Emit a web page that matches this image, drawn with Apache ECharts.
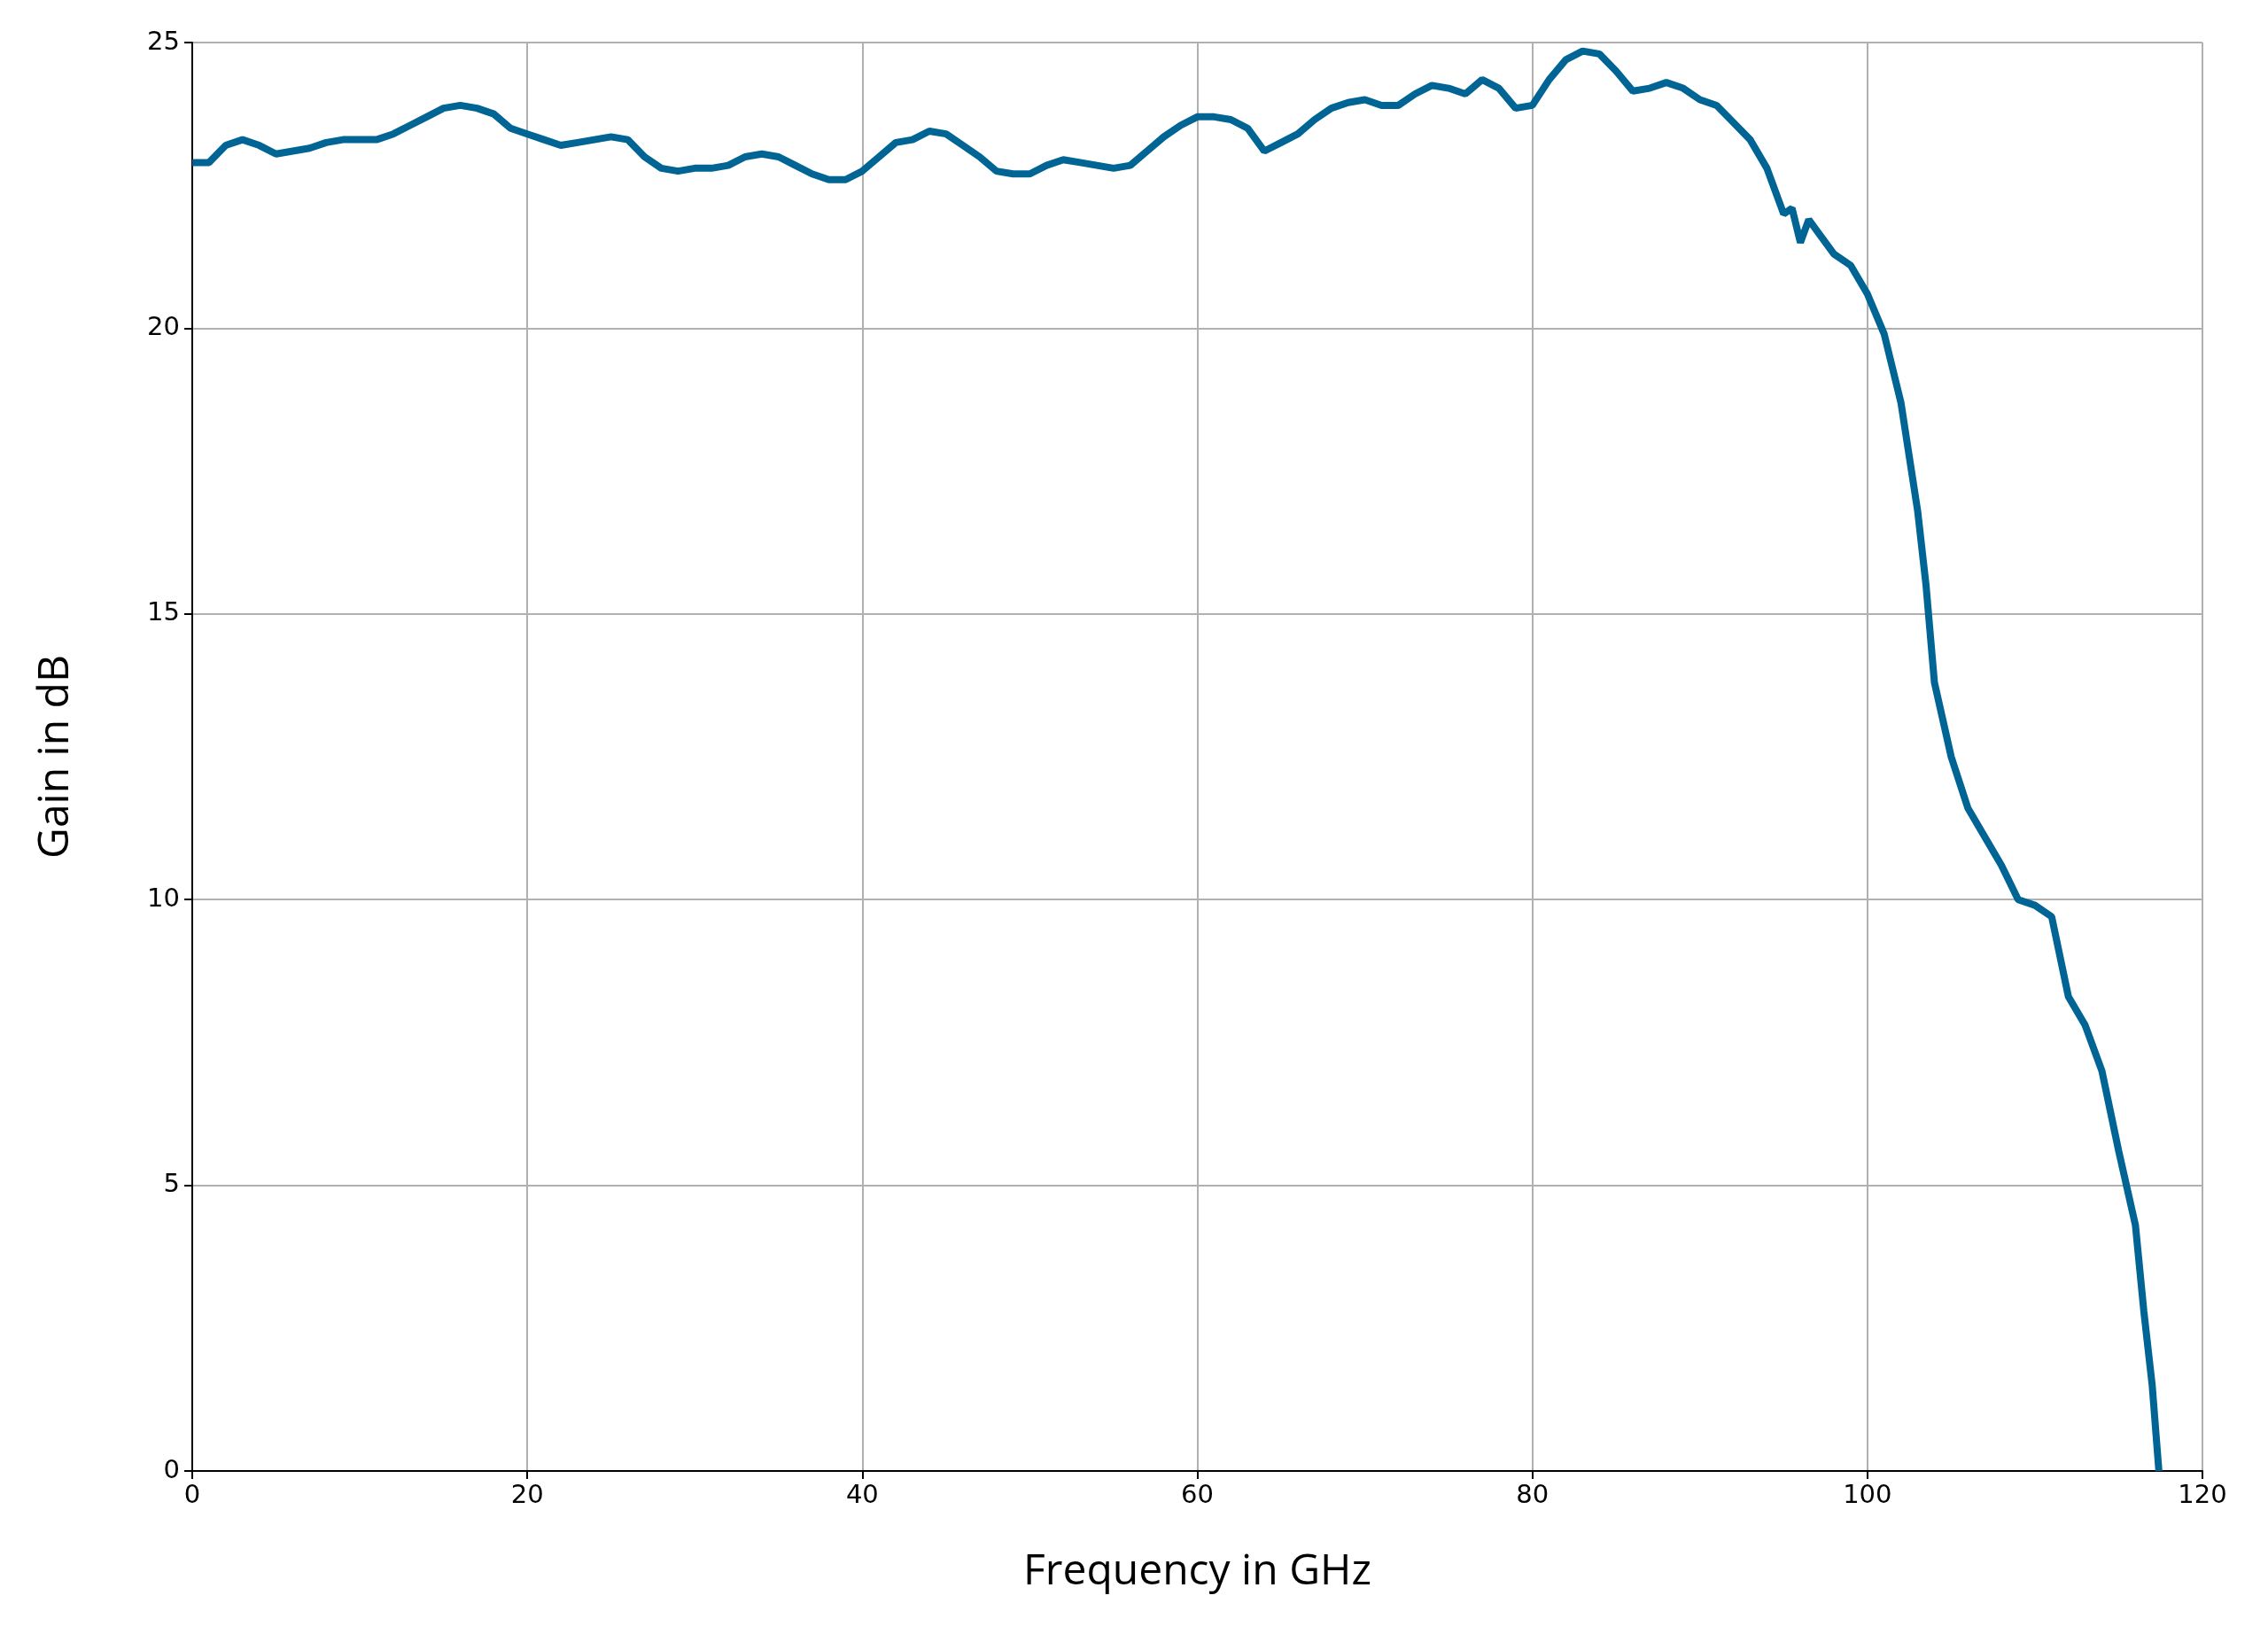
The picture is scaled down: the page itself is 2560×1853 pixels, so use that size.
<!DOCTYPE html>
<html>
<head>
<meta charset="utf-8">
<script src="https://cdn.jsdelivr.net/npm/echarts@6/dist/echarts.min.js"></script>
<style>html,body{margin:0;padding:0;background:#fff}#chart{width:2560px;height:1853px}</style>
</head>
<body>
<div id="chart"></div>
<script>
// 频率 (GHz)
var freq = [0,1,2,3,4,5,6,7,8,9,10,11,12,13,14,15,16,17,18,19,20,21,22,23,24,25,26,27,28,29,30,31,32,33,34,35,36,37,38,39,40,41,42,43,44,45,46,47,48,49,50,51,52,53,54,55,56,57,58,59,60,61,62,63,64,65,66,67,68,69,70,71,72,73,74,75,76,77,78,79,80,81,82,83,84,85,86,87,88,89,90,91,92,93,94,95,95.5,96,96.5,97,98,99,100,101,102,103,103.5,104,105,106,107,108,109,110,111,112,113,114,115,116,116.5,117,117.4];
// 增益 (dB)
var gain = [22.9,22.9,23.2,23.3,23.2,23.05,23.1,23.15,23.25,23.3,23.3,23.3,23.4,23.55,23.7,23.85,23.9,23.85,23.75,23.5,23.4,23.3,23.2,23.25,23.3,23.35,23.3,23.0,22.8,22.75,22.8,22.8,22.85,23.0,23.05,23.0,22.85,22.7,22.6,22.6,22.75,23.0,23.25,23.3,23.45,23.4,23.2,23.0,22.75,22.7,22.7,22.85,22.95,22.9,22.85,22.8,22.85,23.1,23.35,23.55,23.7,23.7,23.65,23.5,23.1,23.25,23.4,23.65,23.85,23.95,24.0,23.9,23.9,24.1,24.25,24.2,24.1,24.35,24.2,23.85,23.9,24.35,24.7,24.85,24.8,24.5,24.15,24.2,24.3,24.2,24.0,23.9,23.6,23.3,22.8,22.0,22.1,21.5,21.9,21.7,21.3,21.1,20.6,19.9,18.7,16.8,15.5,13.8,12.5,11.6,11.1,10.6,10.0,9.9,9.7,8.3,7.8,7.0,5.6,4.3,2.8,1.5,0];

var pts = [];
for (var i = 0; i < freq.length; i++) { pts.push([freq[i], gain[i]]); }

var chart = echarts.init(document.getElementById('chart'));
var tickFont = {fontFamily:'DejaVu Sans', fontSize:29, color:'#000'};
chart.setOption({
	animation:false,
	grid:{left:217, right:74, top:48, bottom:193},
	xAxis:{
		type:'value', min:0, max:120, interval:20,
		name:'Frequency in GHz', nameLocation:'middle', nameGap:90,
		nameTextStyle:{fontFamily:'Open Sans', fontSize:48, color:'#000'},
		axisLine:{lineStyle:{color:'#000', width:2}},
		axisTick:{show:true, length:9, lineStyle:{color:'#000', width:2}},
		axisLabel:Object.assign({margin:14}, tickFont),
		splitLine:{show:true, lineStyle:{color:'#b0b0b0', width:2}}
	},
	yAxis:{
		type:'value', min:0, max:25, interval:5,
		name:'Gain in dB', nameLocation:'middle', nameGap:130,
		nameTextStyle:{fontFamily:'Open Sans', fontSize:48, color:'#000'},
		axisLine:{show:true, lineStyle:{color:'#000', width:2}},
		axisTick:{show:true, length:9, lineStyle:{color:'#000', width:2}},
		axisLabel:Object.assign({margin:14}, tickFont),
		splitLine:{show:true, lineStyle:{color:'#b0b0b0', width:2}}
	},
	series:[{
		type:'line', data:pts, showSymbol:false,
		lineStyle:{color:'#006494', width:8}
	}]
});
</script>
</body>
</html>
